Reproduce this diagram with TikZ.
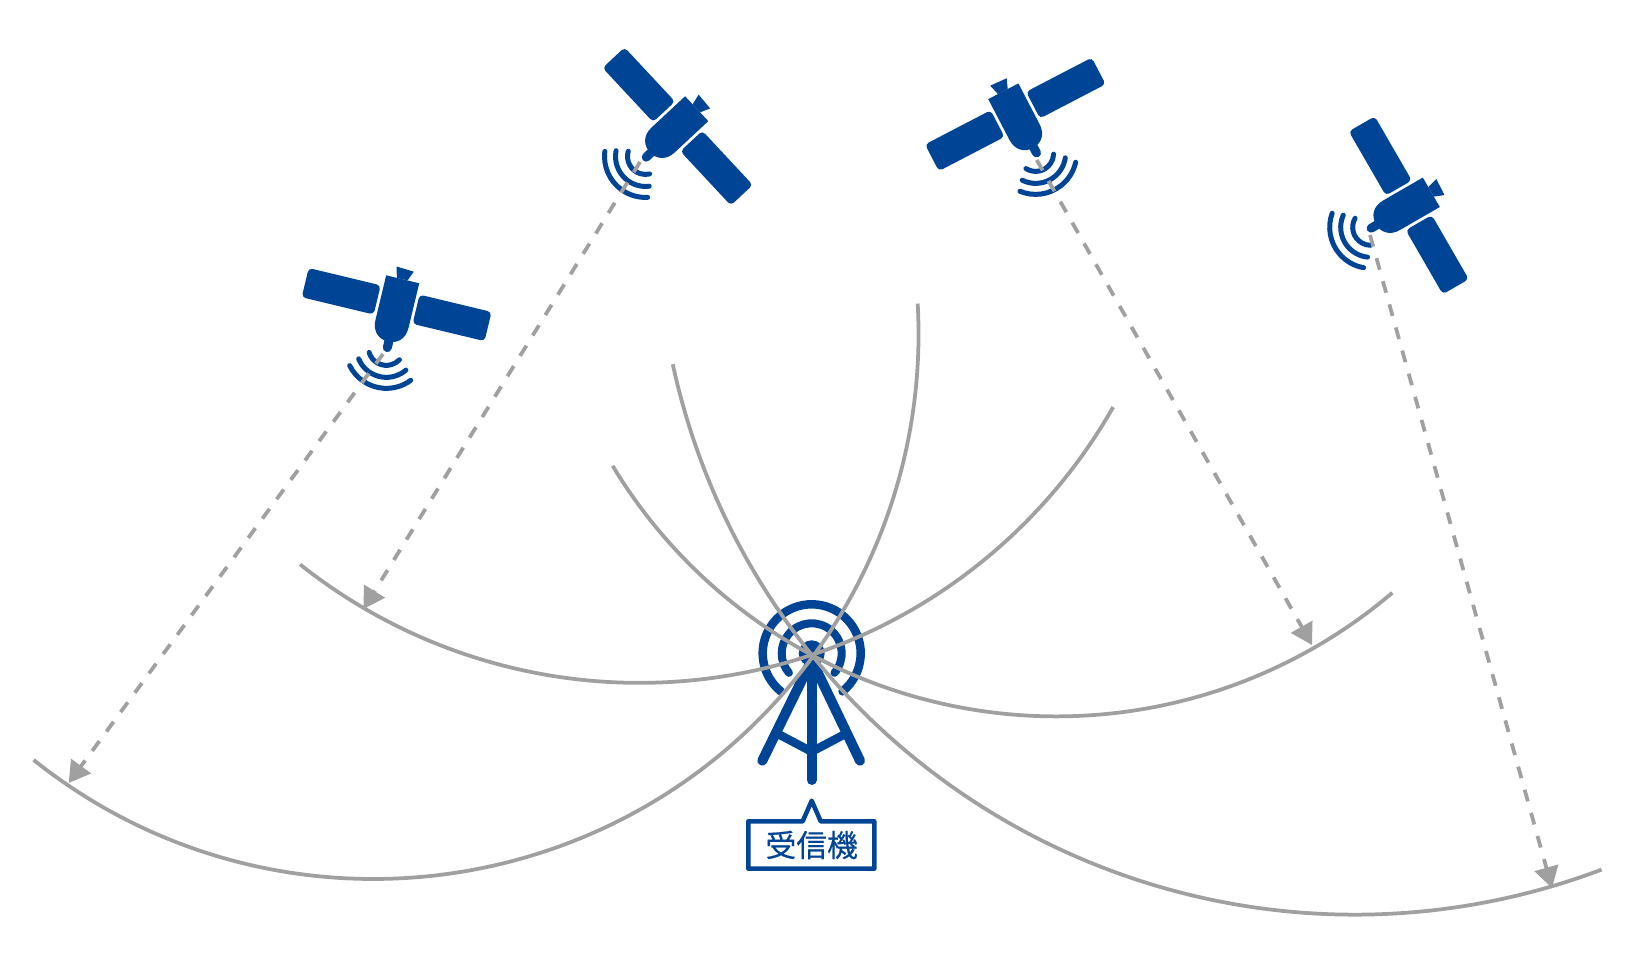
\documentclass[tikz,border=0pt]{standalone}
\usepackage{fontspec}
\usepackage{tikz}
\usetikzlibrary{arrows.meta}
\newfontfamily\cjkfont[FakeBold=0.5]{Noto Sans CJK JP}
\definecolor{satblue}{HTML}{004595}
\definecolor{wavegray}{HTML}{A0A0A0}

\tikzset{
	wave/.style={draw=satblue, line width=0.1cm, line cap=round},
	sphere/.style={draw=wavegray, line width=0.075cm},
	signal/.style={draw=wavegray, line width=0.075cm, dash pattern=on 0.24cm off 0.24cm, -{Triangle[length=0.42cm,width=0.48cm]}},
	satellite/.pic={
		\fill[satblue, rounded corners=0.08cm] (-94,-11) rectangle (-20,-41);
		\fill[satblue, rounded corners=0.08cm] (20,-11) rectangle (94,-41);
		\fill[satblue] (-17,0) -- (17,0) -- (17,-46) .. controls (17,-58) and (9,-64) .. (0,-64) .. controls (-9,-64) and (-17,-58) .. (-17,-46) -- cycle;
		\fill[satblue] (-9,11) -- (9,10) -- (5,0) -- (-6,0) -- cycle;
		\draw[satblue, line width=0.18cm, line cap=round] (1,-60) -- (1,-70);
		\foreach \r/\h in {18/60, 30/54, 41/50}{
			\draw[wave] (0,-70) ++(270-\h:\r) arc [start angle=270-\h, end angle=270+\h, radius=\r];
		}
	}
}

\begin{document}
\begin{tikzpicture}[x=0.02cm, y=0.02cm]
	\path[fill=white, use as bounding box] (0,0) rectangle (1633,954);

	% satellites
	\pic[rotate=-13.5] at (402.7,674.7) {satellite};
	\pic[rotate=-47] at (696.7,845.3) {satellite};
	\pic[rotate=27.5] at (1003.3,862.7) {satellite};
	\pic[rotate=-60] at (1431.3,761.7) {satellite};

	% receiver
	\coordinate (rx) at (811.7,299);
	\fill[satblue] (811.7,300.7) circle [radius=13];
	\draw[satblue, line width=0.16cm, line cap=round] (811.7,300.7) ++(-40.6:30) arc [start angle=-40.6, end angle=220.6, radius=30];
	\draw[satblue, line width=0.17cm, line cap=round] (811.7,300.7) ++(-51:49) arc [start angle=-51, end angle=231, radius=49];
	\draw[satblue, line width=0.2cm, line cap=round, line join=round] (762.3,193.3) -- (811.7,294) -- (860,193.3);
	\draw[satblue, line width=0.2cm, line cap=round] (811.7,300) -- (811.7,174);
	\draw[satblue, line width=0.17cm] (780,219) -- (811.7,202.3) -- (843.3,219);

	% label
	\draw[satblue, fill=white, line width=0.09cm, line join=round] (748.3,132.7) -- (802.7,132.7) -- (811.7,153.3) -- (820.7,132.7) -- (874.3,132.7) -- (874.3,85.3) -- (748.3,85.3) -- cycle;
	\node[text=satblue, font=\cjkfont\fontsize{17.5pt}{17.5pt}\selectfont, inner sep=0pt] (lbl) at (811.7,109) {受信機};

	% spheres
	\foreach \cx/\cy/\rad/\a/\b in {373.55/620/545/231.4/363.2, 639.3/816.1/545/231.5/330.4, 1056.4/755.9/518.3/211.1/310.4, 1354.9/737.2/697.9/192.2/290.7}{
		\draw[sphere] (\cx,\cy) ++(\a:\rad) arc [start angle=\a, end angle=\b, radius=\rad];
	}

	% signals
	\foreach \name/\sx/\sy/\ex/\ey in {a/383/600/68.7/171, b/640/792/363.5/345, c/1036.7/794/1312/309, d/1370/719/1552/66}{
		\coordinate (s\name) at (\sx,\sy);
		\coordinate (e\name) at (\ex,\ey);
		\draw[signal] (s\name) -- (e\name);
	}
\end{tikzpicture}
\end{document}
